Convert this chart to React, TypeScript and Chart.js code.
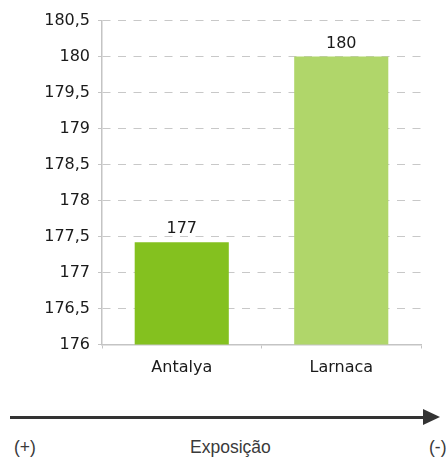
import React, { useEffect, useRef } from "react";
import { Chart, registerables } from "chart.js";

Chart.register(...registerables);

const categories: string[] = ["Antalya", "Larnaca"];
const values: number[] = [177.42, 180];
const barColors: string[] = ["#84c11f", "#b0d66a"];
const yMin = 176;
const yMax = 180.5;
const yStep = 0.5;
const axisLeftLabel = "(+)";
const axisTitle = "Exposição";
const axisRightLabel = "(-)";

const FONT = "'DejaVu Sans', Verdana, sans-serif";

const valueLabelPlugin = {
  id: "valueLabels",
  afterDatasetsDraw(chart: any) {
    const ctx = chart.ctx;
    const meta = chart.getDatasetMeta(0);
    ctx.save();
    ctx.font = `16px ${FONT}`;
    ctx.fillStyle = "#1a1a1a";
    ctx.textAlign = "center";
    ctx.textBaseline = "alphabetic";
    meta.data.forEach((bar: any, i: number) => {
      const v = chart.data.datasets[0].data[i] as number;
      ctx.fillText(String(Math.round(v)), bar.x, bar.y - 9);
    });
    ctx.restore();
  },
};

export default function App() {
  const canvasRef = useRef<HTMLCanvasElement | null>(null);

  useEffect(() => {
    if (!canvasRef.current) return;
    const chart = new Chart(canvasRef.current, {
      type: "bar",
      data: {
        labels: categories,
        datasets: [
          {
            data: values,
            backgroundColor: barColors,
            borderWidth: 0,
            barPercentage: 0.59,
            categoryPercentage: 1,
          },
        ],
      },
      options: {
        animation: false,
        responsive: false,
        maintainAspectRatio: false,
        layout: { padding: { top: 10, right: 25, left: 0, bottom: 0 } },
        plugins: {
          legend: { display: false },
          tooltip: { enabled: false },
        },
        scales: {
          x: {
            grid: {
              display: true,
              drawOnChartArea: false,
              drawTicks: true,
              tickLength: 4,
              color: "#c4c4c4",
              lineWidth: 1,
            },
            border: { display: true, color: "#c4c4c4", width: 1.5 },
            ticks: {
              color: "#1a1a1a",
              font: { family: FONT, size: 16 },
              padding: 10,
            },
            afterFit(scale: any) {
              scale.height = 48.5;
            },
          },
          y: {
            min: yMin,
            max: yMax,
            ticks: {
              stepSize: yStep,
              color: "#1a1a1a",
              font: { family: FONT, size: 16 },
              padding: 8,
              callback: (v: any) => String(Number(v)).replace(".", ","),
            },
            grid: {
              color: "#c8c8c8",
              lineWidth: 1,
              drawTicks: true,
              tickLength: 4,
              tickColor: "#c4c4c4",
              tickBorderDash: [],
            },
            border: {
              display: true,
              color: "#c4c4c4",
              width: 1.5,
              dash: [8, 7.5],
            },
            afterFit(scale: any) {
              scale.width = 102;
            },
          },
        },
      },
      plugins: [valueLabelPlugin],
    } as any);
    return () => chart.destroy();
  }, []);

  const textStyle: React.CSSProperties = {
    position: "absolute",
    fontFamily: "'Liberation Sans', Arial, sans-serif",
    fontSize: "17.5px",
    lineHeight: "20px",
    color: "#3a3a3a",
    top: 437,
    whiteSpace: "nowrap",
  };

  return (
    <div
      style={{
        position: "absolute",
        left: 0,
        top: 0,
        width: 446,
        height: 458,
        overflow: "hidden",
        background: "#ffffff",
      }}
    >
      <canvas
        ref={canvasRef}
        width={446}
        height={390}
        style={{ position: "absolute", left: 0, top: 2.5, width: 446, height: 390 }}
      />
      <div
        style={{
          position: "absolute",
          left: 10,
          top: 416,
          width: 415,
          height: 3,
          background: "#333333",
        }}
      />
      <div
        style={{
          position: "absolute",
          left: 423,
          top: 409,
          width: 0,
          height: 0,
          borderLeft: "17px solid #333333",
          borderTop: "8px solid transparent",
          borderBottom: "8px solid transparent",
        }}
      />
      <span style={{ ...textStyle, left: 14 }}>{axisLeftLabel}</span>
      <span style={{ ...textStyle, left: 190 }}>{axisTitle}</span>
      <span style={{ ...textStyle, left: 429 }}>{axisRightLabel}</span>
    </div>
  );
}
